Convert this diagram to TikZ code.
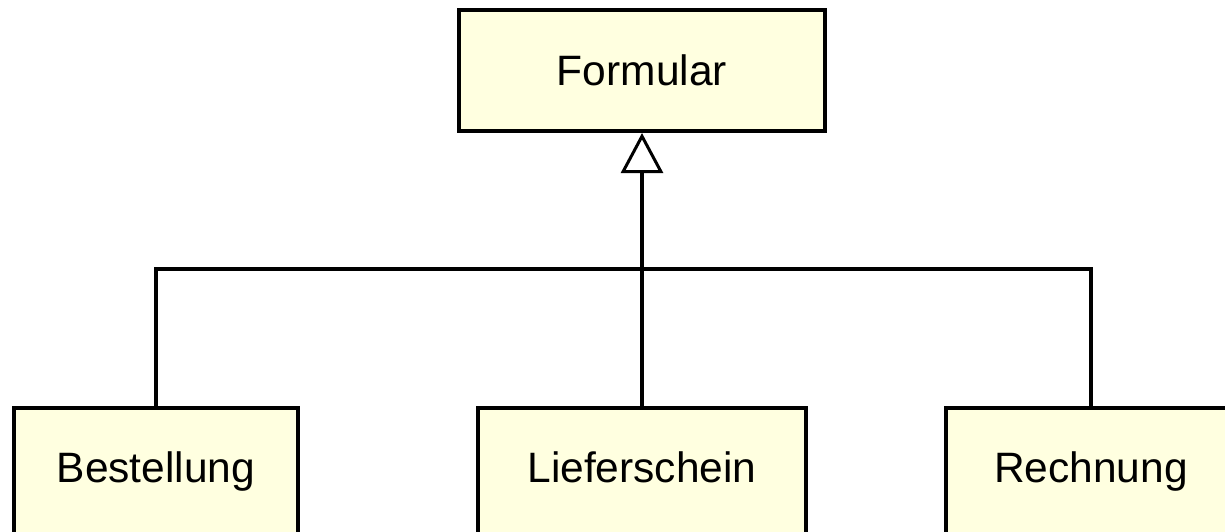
\documentclass[tikz,border=0pt]{standalone}
\usepackage{fontspec}
\setmainfont{Liberation Sans}
\usetikzlibrary{arrows.meta}
\definecolor{boxfill}{RGB}{255,255,224}
\tikzset{
  classbox/.style={draw=black, fill=boxfill, line width=4pt, inner sep=0pt,
    font=\fontsize{42.5}{50}\selectfont, align=center},
  topbox/.style={classbox, text height=31pt, text depth=2pt},
  lowbox/.style={classbox, text height=26pt, text depth=6pt},
  link/.style={draw=black, line width=3.5pt},
  inherit/.style={link, -{Triangle[open, length=40pt, width=42pt, line width=3pt]}, line join=miter}
}
\begin{document}
\begin{tikzpicture}[x=1pt,y=-1pt]
\useasboundingbox (0,0) rectangle (1225,531);
\clip (0,0) rectangle (1225,531);
\node[topbox, minimum width=366pt, minimum height=121pt] (form) at (642,70.5) {Formular};
\node[lowbox, minimum width=284pt, minimum height=128pt] (best) at (156,472) {Bestellung};
\node[lowbox, minimum width=328pt, minimum height=128pt] (lief) at (642,472) {Lieferschein};
\node[lowbox, minimum width=290pt, minimum height=128pt] (rech) at (1091,472) {Rechnung};
\coordinate (hub) at (642,269);
\draw[link] (best.north) |- (hub) -| (rech.north);
\draw[inherit] (lief.north) -- (form.south);
\end{tikzpicture}
\end{document}
